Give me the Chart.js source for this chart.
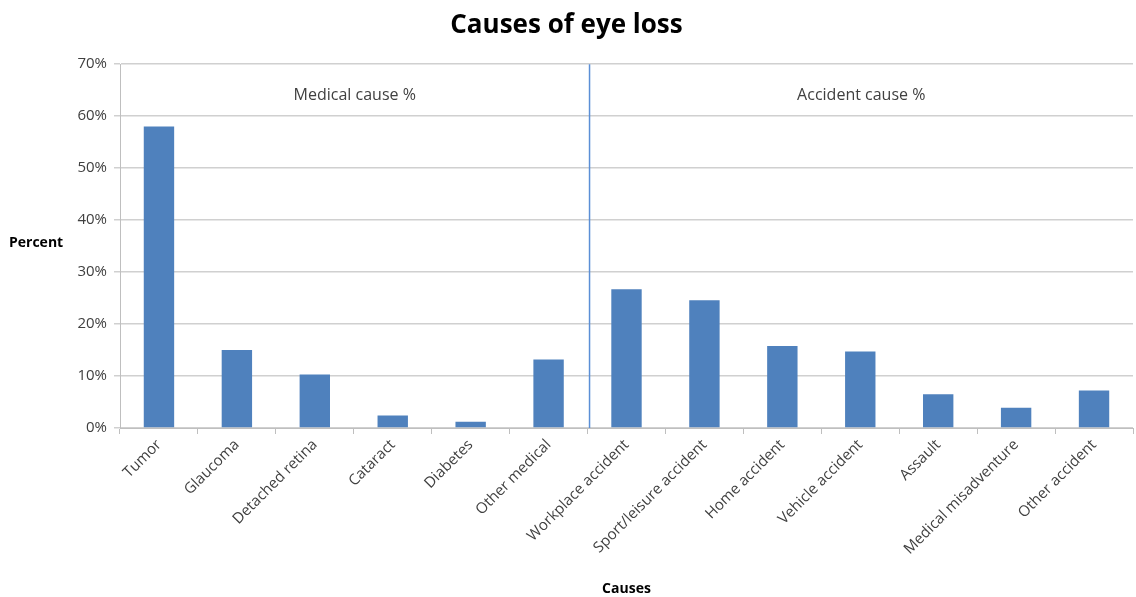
<!DOCTYPE html>
<html>
<head>
<meta charset="utf-8">
<title>Causes of eye loss</title>
<script src="https://cdn.jsdelivr.net/npm/chart.js@4.4.0/dist/chart.umd.min.js"></script>
<style>
    html, body { margin: 0; padding: 0; background: #fff; }
    #wrap { width: 1136px; height: 597px; }
</style>
</head>
<body>
<div id="wrap"><canvas id="eyeChart" width="1136" height="597"></canvas></div>
<script>
// Data
const causes = ['Tumor', 'Glaucoma', 'Detached retina', 'Cataract', 'Diabetes', 'Other medical',
    'Workplace accident', 'Sport/leisure accident', 'Home accident', 'Vehicle accident',
    'Assault', 'Medical misadventure', 'Other accident'];
const percents = [58.0, 15.0, 10.3, 2.4, 1.2, 13.2, 26.7, 24.6, 15.8, 14.7, 6.5, 3.9, 7.2];
const groupLabels = ['Medical cause %', 'Accident cause %'];
const medicalCount = 6;

const FONT = '"Open Sans", Lato, sans-serif';

// Divider line, group captions and the horizontal y title
const groupPlugin = {
    id: 'groups',
    afterDatasetsDraw(chart) {
        const { ctx, chartArea, scales } = chart;
        const x = scales.x;
        const splitX = (x.getPixelForValue(medicalCount - 1) + x.getPixelForValue(medicalCount)) / 2 + 2;
        ctx.save();
        ctx.strokeStyle = '#5b8fd6';
        ctx.lineWidth = 1.5;
        ctx.beginPath();
        ctx.moveTo(splitX, chartArea.top);
        ctx.lineTo(splitX, chartArea.bottom);
        ctx.stroke();

        ctx.fillStyle = '#404040';
        ctx.font = '16px ' + FONT;
        ctx.textAlign = 'center';
        ctx.textBaseline = 'middle';
        const capY = scales.y.getPixelForValue(64);
        ctx.fillText(groupLabels[0], (chartArea.left + splitX) / 2, capY);
        ctx.fillText(groupLabels[1], (splitX + chartArea.right) / 2, capY);

        ctx.fillStyle = '#000';
        ctx.font = 'bold 14px ' + FONT;
        ctx.textAlign = 'left';
        ctx.fillText('Percent', 9, scales.y.getPixelForValue(35.5));
        ctx.restore();
    }
};

new Chart(document.getElementById('eyeChart'), {
    type: 'bar',
    data: {
        labels: causes,
        datasets: [{
            data: percents,
            backgroundColor: '#4f81bd',
            barPercentage: 1,
            categoryPercentage: 0.39
        }]
    },
    options: {
        responsive: false,
        animation: false,
        layout: { padding: { left: 0, right: 3, top: 0, bottom: 0 } },
        plugins: {
            legend: { display: false },
            tooltip: { enabled: false },
            title: {
                display: true,
                text: 'Causes of eye loss',
                color: '#000',
                font: { family: FONT, size: 26, weight: 'bold' },
                padding: { top: 10, bottom: 23 }
            }
        },
        scales: {
            x: {
                afterFit(scale) { scale.height = 169; },
                grid: { display: true, drawOnChartArea: false, drawTicks: true, offset: true, tickLength: 6, color: '#bfbfbf' },
                border: { color: '#bfbfbf' },
                ticks: {
                    color: '#404040',
                    font: { family: FONT, size: 15 },
                    maxRotation: 45,
                    minRotation: 45,
                    padding: 2
                },
                title: {
                    display: true,
                    text: 'Causes',
                    color: '#000',
                    font: { family: FONT, size: 14, weight: 'bold' },
                    padding: { top: 4, bottom: 0 }
                }
            },
            y: {
                min: 0,
                max: 70,
                afterFit(scale) { scale.width = 120; },
                grid: { color: '#d0d0d0', lineWidth: 1.5, tickLength: 6 },
                border: { color: '#bfbfbf' },
                ticks: {
                    stepSize: 10,
                    color: '#404040',
                    font: { family: FONT, size: 15 },
                    padding: 7,
                    callback: v => v + '%'
                }
            }
        }
    },
    plugins: [groupPlugin]
});
</script>
</body>
</html>
